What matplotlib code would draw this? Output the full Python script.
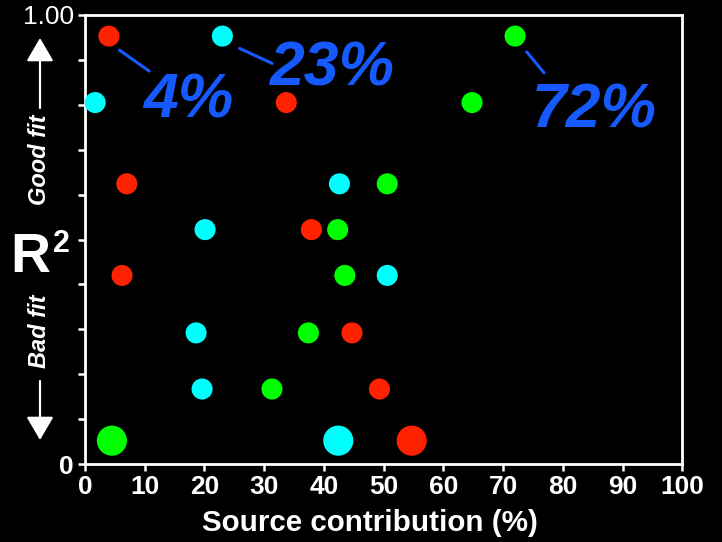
import numpy as np
import matplotlib
matplotlib.use("Agg")
import matplotlib.pyplot as plt
from matplotlib.patches import FancyArrowPatch
from matplotlib.transforms import offset_copy

# Goodness of fit (R^2) for each model run, and the contribution (%) of each source
r_squared = [0.953, 0.805, 0.624, 0.522, 0.420, 0.292, 0.167, 0.052]
source_red = [4, 33.7, 7.0, 37.9, 6.2, 44.7, 49.3, 54.7]
source_cyan = [23, 1.7, 42.6, 20.1, 50.6, 18.6, 19.6, 42.4]
source_green = [72, 64.8, 50.6, 42.3, 43.5, 37.4, 31.3, 4.5]

x_ticks = [0, 10, 20, 30, 40, 50, 60, 70, 80, 90, 100]
y_ticks = [0.0, 0.1, 0.2, 0.3, 0.4, 0.5, 0.6, 0.7, 0.8, 0.9, 1.0]
y_tick_labels = ["0", "", "", "", "", "", "", "", "", "", "1.00"]

plt.rcParams["font.family"] = ["Liberation Sans", "DejaVu Sans"]

W, H = 722, 542
BLUE = "#1559FF"
colors = {"red": "#FF2200", "cyan": "#00FFFF", "green": "#00FF00"}


def fig_xy(px, py):
    """Pixel position (from top-left) to figure fraction."""
    return px / W, 1 - py / H


fig = plt.figure(figsize=(W / 100, H / 100), dpi=100, facecolor="black")
ax = fig.add_axes([85 / W, (H - 464) / H, 597.3 / W, 449 / H])
ax.set_facecolor("black")
ax.set_xlim(0, 100)
ax.set_ylim(0, 1)

for side in ax.spines.values():
    side.set_color("white")
    side.set_linewidth(2.0)

ax.set_xticks(x_ticks)
ax.set_xticklabels([str(t) for t in x_ticks], fontweight="bold")
ax.set_yticks(y_ticks)
ax.set_yticklabels(y_tick_labels)
ax.tick_params(axis="both", direction="out", length=5, width=1.8,
               colors="white", labelsize=19, pad=3)
ax.get_yticklabels()[0].set_fontweight("bold")

# Points: the last run is drawn larger
r2 = np.array(r_squared)
sizes = np.where(np.arange(len(r2)) == len(r2) - 1, 470, 230)
for vals, key in [(source_red, "red"), (source_cyan, "cyan"), (source_green, "green")]:
    ax.scatter(vals, r2, s=sizes, color=colors[key], linewidths=0,
               zorder=3, clip_on=False)

# Percent labels for the best-fit run, with connector lines from each point
best = 0
labels = [
    # values, line start/end offsets in pixels (right, down), text position (data)
    (source_red[best], (10.6, 14), (40.3, 35), (17.2, 0.771)),
    (source_cyan[best], (17.3, 12.3), (49.7, 27.3), (41.5, 0.842)),
    (source_green[best], (11.6, 15.7), (29.0, 36.7), (85.3, 0.749)),
]
for val, (sx, sy), (ex, ey), (tx, ty) in labels:
    start = offset_copy(ax.transData, fig=fig, x=sx, y=-sy, units="dots")
    end = offset_copy(ax.transData, fig=fig, x=ex, y=-ey, units="dots")
    ax.annotate("", xy=(val, r_squared[best]), xycoords=start,
                xytext=(val, r_squared[best]), textcoords=end,
                arrowprops=dict(arrowstyle="-", color=BLUE, lw=2.2,
                                shrinkA=0, shrinkB=0))
    ax.text(tx, ty, f"{val:g}%", color=BLUE, fontsize=45, fontweight="bold",
            fontstyle="italic", ha="center", va="baseline", zorder=4)

# Axis titles
fig.text(*fig_xy(370, 531), "Source contribution (%)", color="white",
         fontsize=21.3, fontweight="bold", ha="center", va="baseline")
fig.text(*fig_xy(10, 272), "R", color="white", fontsize=40,
         fontweight="bold", ha="left", va="baseline")
fig.text(*fig_xy(53, 252), "2", color="white", fontsize=22,
         fontweight="bold", ha="left", va="baseline")
fig.text(*fig_xy(40, 160), "Good fit", color="white", fontsize=17,
         fontweight="bold", fontstyle="italic", rotation=90,
         ha="center", va="center")
fig.text(*fig_xy(40, 331), "Bad fit", color="white", fontsize=17,
         fontweight="bold", fontstyle="italic", rotation=90,
         ha="center", va="center")

for (x0, y0), (x1, y1) in [((40, 108), (40, 38)), ((40, 381), (40, 440))]:
    fig.add_artist(FancyArrowPatch(
        fig_xy(x0, y0), fig_xy(x1, y1), transform=fig.transFigure,
        arrowstyle="-|>,head_length=0.72,head_width=0.42", mutation_scale=20,
        color="white", lw=1.6, shrinkA=0, shrinkB=0))

fig.savefig("out.png", dpi=100, facecolor="black")
